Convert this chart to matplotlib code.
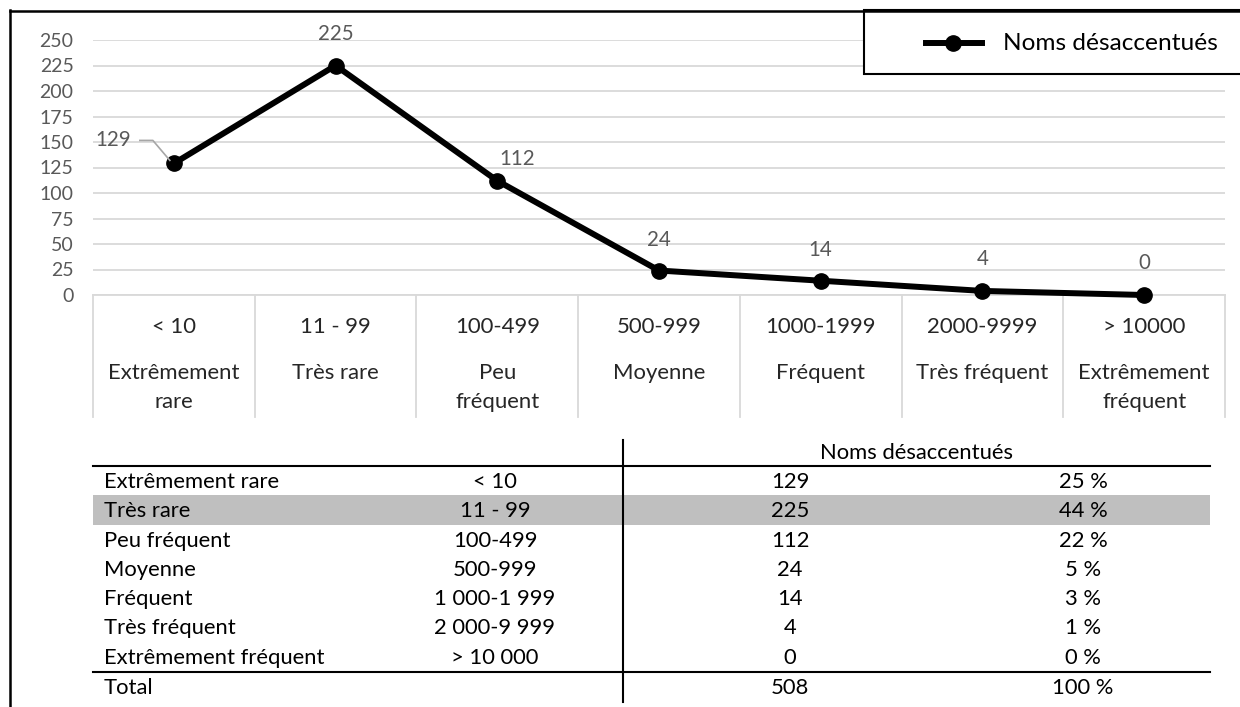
import matplotlib
matplotlib.use("Agg")
import matplotlib.pyplot as plt
from matplotlib.transforms import blended_transform_factory
from matplotlib.lines import Line2D
from matplotlib.patches import Rectangle

plt.rcParams['font.family'] = ['Lato', 'DejaVu Sans']

# données
ranges = ["< 10", "11 - 99", "100-499", "500-999", "1000-1999", "2000-9999", "> 10000"]
names = ["Extrêmement\nrare", "Très rare", "Peu\nfréquent", "Moyenne", "Fréquent",
         "Très fréquent", "Extrêmement\nfréquent"]
counts = [129, 225, 112, 24, 14, 4, 0]
series_name = "Noms désaccentués"
y_ticks = [0, 25, 50, 75, 100, 125, 150, 175, 200, 225, 250]

table_labels = ["Extrêmement rare", "Très rare", "Peu fréquent", "Moyenne", "Fréquent",
                "Très fréquent", "Extrêmement fréquent"]
table_ranges = ["< 10", "11 - 99", "100-499", "500-999", "1 000-1 999", "2 000-9 999", "> 10 000"]
table_pcts = ["25 %", "44 %", "22 %", "5 %", "3 %", "1 %", "0 %"]
total_label = "Total"
total_count = 508
total_pct = "100 %"

W, H = 1240, 707
fig = plt.figure(figsize=(W / 100, H / 100), dpi=100)


def fx(x):
    return x / W


def fy(y):
    return 1 - y / H


# zone du graphique
ax = fig.add_axes([fx(93), fy(295), fx(1225) - fx(93), fy(40) - fy(295)])
xs = list(range(len(counts)))
ax.set_xlim(-0.5, len(counts) - 0.5)
ax.set_ylim(0, 250)
ax.set_yticks(y_ticks)
ax.set_xticks([])
ax.tick_params(axis='y', length=0, pad=14, labelsize=14, labelcolor="#595959")
for s in ax.spines.values():
    s.set_visible(False)
ax.grid(axis='y', color="#d9d9d9", linewidth=1.3)
ax.set_axisbelow(True)

ax.plot(xs, counts, color="black", linewidth=4.3, marker='o', markersize=11,
        solid_capstyle='round', zorder=3, clip_on=False)

# étiquettes de données (décalages en pixels)
label_offsets = [(-61, 23), (0, 31), (20, 22), (0, 31), (0, 31), (0, 32), (0, 32)]
for x, v, (dx, dy) in zip(xs, counts, label_offsets):
    ax.annotate(str(v), (x, v), xytext=(dx, dy), textcoords='offset pixels',
                ha='center', va='center', fontsize=14.8, color="#595959")

# ligne de rappel pour 129
px0, py0 = ax.transData.transform((xs[0], counts[0]))
fig.add_artist(Line2D([px0 - 34, px0 - 21, px0 - 4], [py0 + 23, py0 + 23, py0 + 3],
                      transform=None, color="#a6a6a6", linewidth=1.2))

# axe des catégories en cases
trans = blended_transform_factory(ax.transData, fig.transFigure)
ax.plot([-0.5, len(counts) - 0.5], [fy(295), fy(295)], transform=trans,
        color="#d9d9d9", linewidth=1.3, clip_on=False)
for b in range(len(counts) + 1):
    ax.plot([b - 0.5, b - 0.5], [fy(295), fy(417)], transform=trans,
            color="#d9d9d9", linewidth=1.3, clip_on=False)
for x, r, n in zip(xs, ranges, names):
    ax.text(x, fy(327), r, transform=trans, ha='center', va='center',
            fontsize=15.9, color="#262626")
    for k, part in enumerate(n.split("\n")):
        ax.text(x, fy(373 + 29 * k), part, transform=trans, ha='center', va='center',
                fontsize=15.9, color="#262626")

# cadre extérieur
fig.add_artist(Line2D([fx(9.5), fx(9.5)], [fy(10), 0], color="black", linewidth=1.8))
fig.add_artist(Line2D([fx(9.5), 1], [fy(10.5), fy(10.5)], color="black", linewidth=1.8))

# légende
fig.add_artist(Rectangle((fx(864), fy(74)), fx(1260) - fx(864), fy(10) - fy(74),
                         facecolor="white", edgecolor="black", linewidth=1.5,
                         transform=fig.transFigure, clip_on=False))
fig.add_artist(Line2D([fx(926), fx(982)], [fy(43), fy(43)], color="black", linewidth=4.3))
fig.add_artist(Line2D([fx(953)], [fy(43)], color="black", marker='o', markersize=11))
fig.text(fx(1003), fy(43), series_name, ha='left', va='center', fontsize=17.6, color="black")

# tableau
fig.add_artist(Rectangle((fx(93), fy(525)), fx(1210) - fx(93), fy(495) - fy(525),
                         facecolor="#bfbfbf", edgecolor="none", transform=fig.transFigure))
fig.add_artist(Line2D([fx(93), fx(1210)], [fy(466), fy(466)], color="black", linewidth=1.5))
fig.add_artist(Line2D([fx(93), fx(1210)], [fy(672), fy(672)], color="black", linewidth=1.5))
fig.add_artist(Line2D([fx(623), fx(623)], [fy(440), fy(702)], color="black", linewidth=1.5))
fig.text(fx(916), fy(453), series_name, ha='center', va='center', fontsize=15.8)

row_y = [482 + 29.3 * i for i in range(len(table_labels))]
for y, lab, rg, c, p in zip(row_y, table_labels, table_ranges, counts, table_pcts):
    fig.text(fx(104), fy(y), lab, ha='left', va='center', fontsize=15.8)
    fig.text(fx(495), fy(y), rg, ha='center', va='center', fontsize=15.8)
    fig.text(fx(790), fy(y), str(c), ha='center', va='center', fontsize=15.8)
    fig.text(fx(1083), fy(y), p, ha='center', va='center', fontsize=15.8)
fig.text(fx(104), fy(688), total_label, ha='left', va='center', fontsize=15.8)
fig.text(fx(790), fy(688), str(total_count), ha='center', va='center', fontsize=15.8)
fig.text(fx(1083), fy(688), total_pct, ha='center', va='center', fontsize=15.8)

fig.savefig("out.png", dpi=100)
